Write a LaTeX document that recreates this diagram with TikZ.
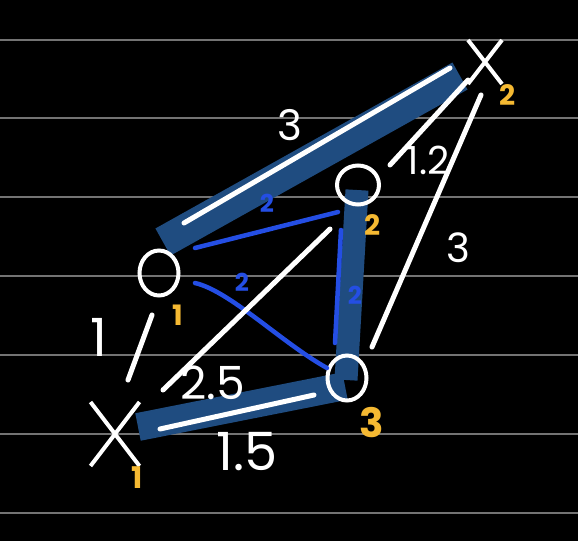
\documentclass[tikz,border=0pt]{standalone}
\usepackage{fontspec}
\setmainfont{Poppins}
\usetikzlibrary{shapes.geometric,shapes.misc}

\definecolor{band}{RGB}{31,76,128}
\definecolor{wblue}{RGB}{36,78,228}
\definecolor{gold}{RGB}{245,185,50}
\definecolor{rule}{RGB}{115,115,115}

\pgfdeclarelayer{background}
\pgfsetlayers{background,main}

\begin{document}
\begin{tikzpicture}[x=0.02cm,y=-0.02cm]
\tikzstyle{ring} = [draw=white, line width=0.08cm, ellipse, minimum width=0.78cm, minimum height=0.9cm, inner sep=0pt]
\tikzstyle{cross} = [draw=white, line width=0.08cm, cross out, inner sep=0pt]
\tikzstyle{edge} = [white, line width=0.1cm, line cap=round]
\tikzstyle{hilite} = [band, line width=0.56cm]
\tikzstyle{thin} = [wblue, line width=0.09cm, line cap=round]
\tikzstyle{lbl} = [white, inner sep=0pt]
\tikzstyle{cost} = [gold, inner sep=0pt, font=\bfseries\fontsize{16}{16}\selectfont]
\tikzstyle{wt} = [wblue, inner sep=0pt, font=\bfseries\fontsize{14}{14}\selectfont]

\useasboundingbox (0,0) rectangle (578,541);

\node[cross, minimum width=0.9cm, minimum height=1.2cm] (xa) at (115,434) {};
\node[cross, minimum width=0.6cm, minimum height=0.8cm] (xb) at (485,62) {};
\node[ring] (oa) at (159,273) {};
\node[ring, minimum height=0.78cm, minimum width=0.84cm] (ob) at (358,185) {};
\node[ring] (oc) at (347,378) {};

\begin{pgfonlayer}{background}
\fill[black] (0,0) rectangle (578,541);
\foreach \y in {40,118,197,276,355,434,513}
  \draw[rule, line width=0.04cm] (0,\y) -- (578,\y);
\draw[hilite, line width=0.62cm] ([shift={(4,-31)}]oa.center) -- ([shift={(-25,14)}]xb.center);
\draw[hilite, line width=0.46cm] ([shift={(-1,5)}]ob.center) -- ([shift={(-1,2)}]oc.center);
\draw[hilite] ([shift={(-2,8)}]oc.center) -- ([shift={(23,-7)}]xa.center);
\end{pgfonlayer}

% blue links
\draw[thin] ([shift={(36,-25)}]oa.center) -- ([shift={(-20,27)}]ob.center);
\draw[thin] ([shift={(36,10)}]oa.center) .. controls +(35,8) and +(-45,-25) .. ([shift={(-20,-10)}]oc.center);
\draw[thin] ([shift={(-17,45)}]ob.center) -- ([shift={(-12,-35)}]oc.center);

% white links
\draw[edge] ([shift={(25,-50)}]oa.center) -- ([shift={(-35,6)}]xb.center);
\draw[edge] ([shift={(32,-20)}]ob.center) -- ([shift={(-17,18)}]xb.center);
\draw[edge] ([shift={(-4,33)}]xb.center) -- ([shift={(25,-31)}]oc.center);
\draw[edge] ([shift={(-7,42)}]oa.center) -- ([shift={(13,-54)}]xa.center);
\draw[edge] ([shift={(-28,44)}]ob.center) -- ([shift={(48,-44)}]xa.center);
\draw[edge] ([shift={(45,-5)}]xa.center) -- ([shift={(-33,17)}]oc.center);

% lengths
\node[lbl, font=\fontsize{24}{24}\selectfont] (l1) at (290,125) {3};
\node[lbl, font=\fontsize{22}{22}\selectfont] (l2) at (428,160) {1.2};
\node[lbl, font=\fontsize{23}{23}\selectfont] (l3) at (458,248) {3};
\node[lbl, font=\fontsize{30}{30}\selectfont] (l4) at (99,337) {1};
\node[lbl, font=\fontsize{26}{26}\selectfont] (l5) at (213,383) {2.5};
\node[lbl, font=\fontsize{30}{30}\selectfont] (l6) at (247,452) {1.5};

% weights
\node[wt] (w1) at (267,203) {2};
\node[wt] (w2) at (242,282) {2};
\node[wt] (w3) at (355,295) {2};

% costs
\node[cost] (c1) at (508,95) {2};
\node[cost] (c2) at (373,225) {2};
\node[cost] (c3) at (178,315) {1};
\node[cost, font=\bfseries\fontsize{23}{23}\selectfont] (c4) at (372,423) {3};
\node[cost, font=\bfseries\fontsize{17}{17}\selectfont] (c5) at (137,478) {1};
\end{tikzpicture}
\end{document}
